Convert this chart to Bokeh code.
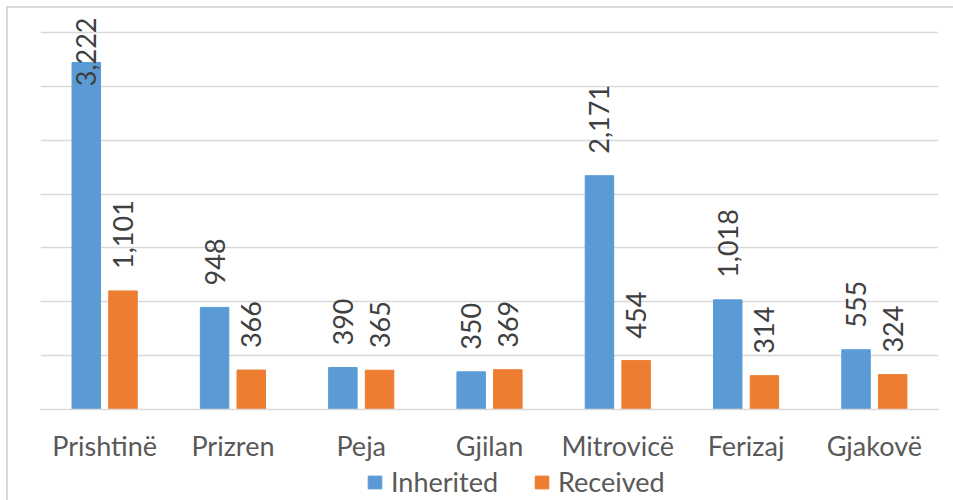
from math import pi
from bokeh.plotting import figure
from bokeh.layouts import column
from bokeh.models import (ColumnDataSource, SingleIntervalTicker, Legend, LegendItem,
                          Range1d, FactorRange)
from bokeh.transform import dodge
from bokeh.core.properties import value
from bokeh.embed import file_html
from bokeh.resources import INLINE

# ---- data ----
cities = ["Prishtinë", "Prizren", "Peja", "Gjilan", "Mitrovicë", "Ferizaj", "Gjakovë"]
inherited = [3222, 948, 390, 350, 2171, 1018, 555]
received = [1101, 366, 365, 369, 454, 314, 324]
series_names = ["Inherited", "Received"]
colors = ["#5B9BD5", "#ED7D31"]

# ---- layout constants ----
FW, FH = 898, 397
Y_END = 3686
TOP, BOTTOM, LEFT, RIGHT = 4, 60, 32, 15
LEG_H = 31
FONT = "Lato"
BAR_W = 0.222
OFFS = [-0.143, 0.143]
LABEL_GAP = 22      # px between bar top and label start
CHAR_PX = 14        # approx px per character of rotated label

p = figure(frame_width=FW, frame_height=FH, x_range=FactorRange(*cities), y_range=Range1d(0, Y_END),
           output_backend="svg", toolbar_location=None,
           min_border_left=LEFT, min_border_right=RIGHT,
           min_border_top=TOP, min_border_bottom=BOTTOM)

ppu = FH / Y_END

src = ColumnDataSource(dict(city=cities, inherited=inherited, received=received))
for name, col, off, color in zip(series_names, ["inherited", "received"], OFFS, colors):
    p.vbar(x=dodge("city", off, range=p.x_range), top=col, width=BAR_W,
           source=src, fill_color=color, line_color=color)
    vals = src.data[col]
    texts = [f"{v:,}" for v in vals]
    ys, aligns, yoffs = [], [], []
    for v, t in zip(vals, texts):
        end = v + (LABEL_GAP + len(t) * CHAR_PX) / ppu
        if end > Y_END:
            ys.append(Y_END); aligns.append("right"); yoffs.append(5)
        else:
            ys.append(v); aligns.append("left"); yoffs.append(-LABEL_GAP)
    lsrc = ColumnDataSource(dict(city=cities, y=ys, text=texts, align=aligns, yoff=yoffs))
    p.text(x=dodge("city", off, range=p.x_range), y="y", text="text", source=lsrc,
           angle=pi / 2, text_align="align", text_baseline="middle", y_offset="yoff",
           text_font=value(FONT), text_font_size="27px", text_color="#404040")

p.yaxis.visible = False
p.ygrid.ticker = SingleIntervalTicker(interval=500)
p.ygrid.grid_line_color = "#d9d9d9"
p.ygrid.grid_line_width = 1.6
p.xgrid.grid_line_color = None
p.outline_line_color = None

ax = p.xaxis[0]
ax.major_label_text_font = FONT
ax.major_label_text_font_size = "27px"
ax.major_label_text_color = "#595959"
ax.major_tick_line_color = None
ax.minor_tick_line_color = None
ax.axis_line_color = "#d9d9d9"
ax.axis_line_width = 1.6
ax.major_label_standoff = 13

# ---- legend strip (separate figure below the chart) ----
lf = figure(width=FW + LEFT + RIGHT, height=LEG_H, x_range=Range1d(0, 1), y_range=Range1d(0, 1),
            x_axis_type=None, y_axis_type=None, output_backend="svg", toolbar_location=None,
            min_border_left=LEFT, min_border_right=RIGHT, min_border_top=0, min_border_bottom=0)
lf.outline_line_color = None
lf.xgrid.visible = False
lf.ygrid.visible = False
nan = float("nan")
leg_rs = [lf.vbar(x=[nan], top=[nan], width=0.1, fill_color=c, line_color=c) for c in colors]
legend = Legend(items=[LegendItem(label=n, renderers=[r]) for n, r in zip(series_names, leg_rs)],
                orientation="horizontal", location=(326, 2),
                label_text_font=FONT, label_text_font_size="27px", label_text_color="#595959",
                glyph_width=17, glyph_height=16, label_standoff=8, spacing=35,
                border_line_color=None, background_fill_alpha=0, padding=0, margin=0)
lf.add_layout(legend)

layout = column(p, lf, spacing=0)
layout.styles = {"margin": "8px 0 0 8px", "box-shadow": "-1px -1px 0 1px #d9d9d9"}

open("out.html", "w").write(file_html(layout, INLINE))
